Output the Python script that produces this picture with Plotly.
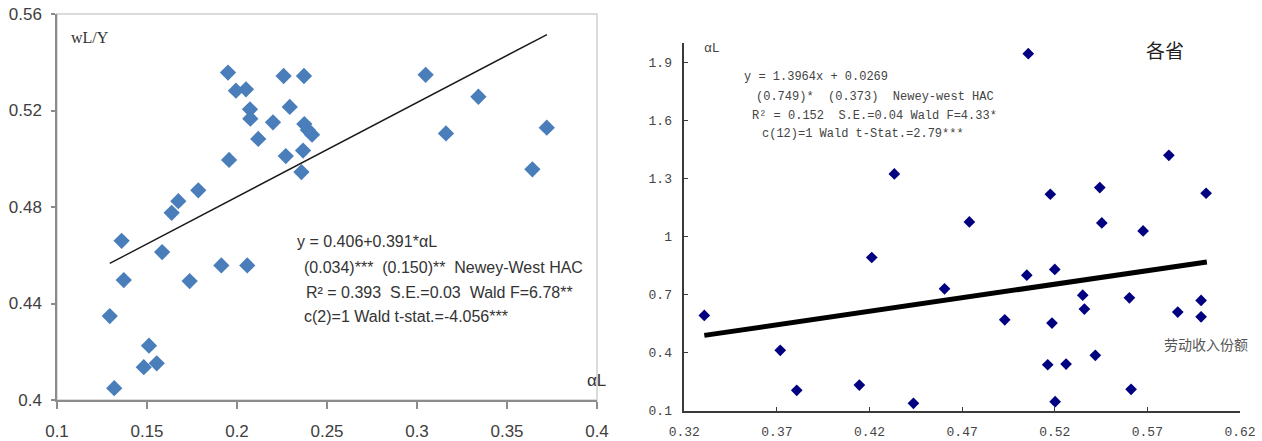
import plotly.graph_objects as go

W, H = 1262, 441

# ---------------- data: left panel (national) ----------------
left_x = [0.1950, 0.1994, 0.2050, 0.2072, 0.2074, 0.2118, 0.2200, 0.1956, 0.2259, 0.2372,
          0.2293, 0.2374, 0.2394, 0.2417, 0.2367, 0.2271, 0.2358, 0.1785, 0.1674, 0.1637,
          0.1584, 0.1359, 0.1371, 0.1737, 0.1913, 0.2057, 0.1293, 0.1511, 0.1482, 0.1554,
          0.1318, 0.3048, 0.3341, 0.3161, 0.3721, 0.3641]
left_y = [0.5357, 0.5282, 0.5288, 0.5205, 0.5166, 0.5082, 0.5151, 0.4995, 0.5343, 0.5343,
          0.5215, 0.5144, 0.5119, 0.5100, 0.5034, 0.5011, 0.4945, 0.4869, 0.4824, 0.4776,
          0.4613, 0.4660, 0.4497, 0.4493, 0.4558, 0.4558, 0.4348, 0.4225, 0.4136, 0.4152,
          0.4049, 0.5348, 0.5257, 0.5105, 0.5129, 0.4956]
left_trend_x = [0.1293, 0.3722]
left_trend_y = [0.4566, 0.5515]
left_xticks = [0.1, 0.15, 0.2, 0.25, 0.3, 0.35, 0.4]
left_xtick_text = ["0.1", "0.15", "0.2", "0.25", "0.3", "0.35", "0.4"]
left_yticks = [0.4, 0.44, 0.48, 0.52, 0.56]
left_ytick_text = ["0.4", "0.44", "0.48", "0.52", "0.56"]

# ---------------- data: right panel (provinces) ----------------
right_x = [0.3308, 0.3718, 0.3807, 0.4145, 0.4212, 0.4437, 0.4605, 0.4334, 0.4739, 0.4930,
           0.5049, 0.5057, 0.5176, 0.5162, 0.5200, 0.5185, 0.5202, 0.5261, 0.5351, 0.5360,
           0.5419, 0.5443, 0.5454, 0.5603, 0.5612, 0.5677, 0.5816, 0.5864, 0.5990, 0.5990,
           0.6017]
right_y = [0.5920, 0.4115, 0.2052, 0.2325, 0.8911, 0.1382, 0.7292, 1.3223, 1.0747, 0.5693,
           0.7998, 1.9432, 1.2176, 0.3372, 0.8292, 0.5523, 0.1464, 0.3408, 0.6967, 0.6245,
           0.3857, 1.2521, 1.0696, 0.6828, 0.2104, 1.0283, 1.4187, 0.6090, 0.6694, 0.5848,
           1.2227]
right_trend_x = [0.3308, 0.6021]
right_trend_y = [0.4888, 0.8677]
right_xticks = [0.32, 0.37, 0.42, 0.47, 0.52, 0.57, 0.62]
right_xtick_text = ["0.32", "0.37", "0.42", "0.47", "0.52", "0.57", "0.62"]
right_yticks = [0.1, 0.4, 0.7, 1.0, 1.3, 1.6, 1.9]
right_ytick_text = ["0.1", "0.4", "0.7", "1", "1.3", "1.6", "1.9"]


def px(x):
    return x / W


def py(y):
    return 1 - y / H


SANS = "Liberation Sans, Arial, sans-serif"
MONO = "Liberation Mono, DejaVu Sans Mono, monospace"
SERIF = "Liberation Serif, Times New Roman, serif"
CJK = "Noto Sans CJK SC, sans-serif"
NB = "\u00a0"

fig = go.Figure()

fig.add_trace(go.Scatter(x=left_x, y=left_y, mode="markers", xaxis="x", yaxis="y",
                         marker=dict(symbol="diamond", size=12.5, color="#4a7ebb"),
                         showlegend=False, hoverinfo="x+y"))
fig.add_trace(go.Scatter(x=left_trend_x, y=left_trend_y, mode="lines", xaxis="x", yaxis="y",
                         line=dict(color="#1a1a1a", width=1.4), showlegend=False))

fig.add_trace(go.Scatter(x=right_x, y=right_y, mode="markers", xaxis="x2", yaxis="y2",
                         marker=dict(symbol="diamond", size=9, color="#000080"),
                         showlegend=False, hoverinfo="x+y"))
fig.add_trace(go.Scatter(x=right_trend_x, y=right_trend_y, mode="lines", xaxis="x2", yaxis="y2",
                         line=dict(color="#000000", width=5), showlegend=False))

left_axis_common = dict(showgrid=False, zeroline=False, showline=True, linecolor="#8c8c8c",
                        linewidth=1.5, ticks="outside", tickcolor="#8c8c8c", tickwidth=1.5,
                        automargin=False,
                        tickfont=dict(family=SANS, size=17, color="#404040"))
right_axis_common = dict(showgrid=False, zeroline=False, showline=True, linecolor="#3a3a3a",
                         linewidth=1.5, ticks="inside", tickcolor="#3a3a3a", tickwidth=1.2,
                         ticklen=4, automargin=False,
                         tickfont=dict(family=MONO, size=13, color="#444444"))

fig.update_layout(
    width=W, height=H,
    margin=dict(l=0, r=0, t=0, b=0, autoexpand=False),
    paper_bgcolor="white", plot_bgcolor="white",
    xaxis=dict(domain=[px(57), px(597)], range=[0.1, 0.4], tickvals=left_xticks,
               ticktext=left_xtick_text, anchor="y", ticklen=7, ticklabelstandoff=8,
               **left_axis_common),
    yaxis=dict(domain=[py(400), py(14)], range=[0.4, 0.56], tickvals=left_yticks,
               ticktext=left_ytick_text, anchor="x", ticklen=4, ticklabelstandoff=6,
               **left_axis_common),
    xaxis2=dict(domain=[px(684.3), px(1240)], range=[0.32, 0.62], tickvals=right_xticks,
                ticktext=right_xtick_text, anchor="y2", ticklabelstandoff=8,
                **right_axis_common),
    yaxis2=dict(domain=[py(410.7), py(42.7)], range=[0.1, 2.0], tickvals=right_yticks,
                ticktext=right_ytick_text, anchor="x2", ticklabelstandoff=8,
                **right_axis_common),
)

# light frame around the left plot area
fig.add_shape(type="rect", xref="x domain", yref="y domain", x0=0, x1=1, y0=0, y1=1,
              line=dict(color="#d0d0d0", width=1.5), layer="below")


def ann(x, y, text, font, size, color, xanchor="left"):
    fig.add_annotation(x=px(x), y=py(y), xref="paper", yref="paper", text=text,
                       showarrow=False, xanchor=xanchor, yanchor="middle",
                       font=dict(family=font, size=size, color=color))


# left panel texts
ann(69, 37, "wL/Y", SERIF, 16, "#333333")
ann(295, 241, "y = 0.406+0.391*αL", SANS, 16, "#333333")
ann(302, 267, f"(0.034)***{NB}{NB}(0.150)**{NB}{NB}Newey-West HAC", SANS, 16, "#333333")
ann(304, 292, f"R² = 0.393{NB}{NB}S.E.=0.03{NB}{NB}Wald F=6.78**", SANS, 16, "#333333")
ann(302, 316, "c(2)=1 Wald t-stat.=-4.056***", SANS, 16, "#333333")
ann(585, 380, "αL", SANS, 17, "#333333")

# right panel texts
ann(702, 48, "αL", MONO, 13, "#444444")
ann(742, 77, "y = 1.3964x + 0.0269", MONO, 12, "#444444")
ann(754, 97, f"(0.749)*{NB}{NB}(0.373){NB}{NB}Newey-west HAC", MONO, 12, "#444444")
ann(750, 116, f"R² = 0.152{NB}{NB}S.E.=0.04 Wald F=4.33*", MONO, 12, "#444444")
ann(760, 134, "c(12)=1 Wald t-Stat.=2.79***", MONO, 12, "#444444")
ann(1165, 50, "各省", CJK, 19, "#222222", xanchor="center")
ann(1162, 344, "劳动收入份额", CJK, 14, "#555555")

fig.write_html(
    "out.html",
    config={"displayModeBar": False},
    post_script="document.body.style.margin='0';document.body.style.overflow='hidden';",
)
